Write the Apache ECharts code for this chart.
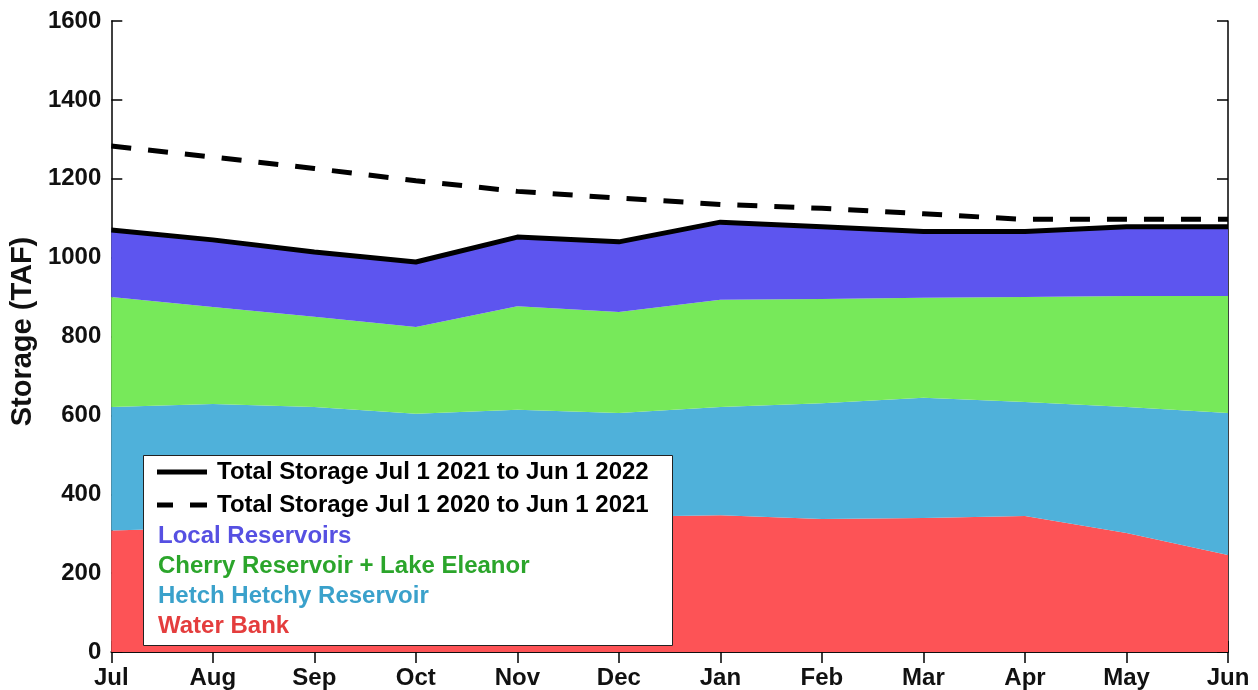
<!DOCTYPE html>
<html>
<head>
<meta charset="utf-8">
<script src="https://cdn.jsdelivr.net/npm/echarts@6/dist/echarts.min.js"></script>
<style>
  html, body { margin: 0; padding: 0; background: #fff; }
  #chart { width: 1258px; height: 690px; }
</style>
</head>
<body>
<div id="chart"></div>
<script>
// Monthly storage, thousand acre-feet (TAF)
const months = ['Jul', 'Aug', 'Sep', 'Oct', 'Nov', 'Dec', 'Jan', 'Feb', 'Mar', 'Apr', 'May', 'Jun'];
const waterBank     = [308, 315, 322, 328, 335, 343, 347, 337, 340, 345, 302, 246];
const hetchHetchy   = [313, 314, 299, 276, 279, 263, 274, 294, 305, 289, 319, 360];
const cherryEleanor = [279, 246, 229, 220, 263, 256, 272, 264, 253, 266, 282, 297];
const localRes      = [170, 170, 164, 165, 175, 178, 197, 183, 168, 166, 175, 175];
const total2022     = [1070, 1045, 1014, 989, 1052, 1040, 1090, 1078, 1066, 1066, 1078, 1078];
const total2021     = [1283, 1255, 1226, 1195, 1168, 1151, 1135, 1125, 1111, 1097, 1097, 1097];
const yTicks = { min: 0, max: 1600, step: 200 };

const NAME_TOTAL_22 = 'Total Storage Jul 1 2021 to Jun 1 2022';
const NAME_TOTAL_21 = 'Total Storage Jul 1 2020 to Jun 1 2021';
const NAME_LOCAL = 'Local Reservoirs';
const NAME_CHERRY = 'Cherry Reservoir + Lake Eleanor';
const NAME_HETCH = 'Hetch Hetchy Reservoir';
const NAME_BANK = 'Water Bank';

const FONT = "'Liberation Sans', Arial, Helvetica, sans-serif";
const fill = { bank: '#fd5356', hetch: '#4fb1da', cherry: '#77e95a', local: '#5d55ef' };

// legend swatches: a solid bar and a two-dash bar
const ICON_SOLID = 'path://M0,0H50V5H0Z';
const ICON_DASHED = 'path://M0,0H16V5H0Z M33,0H50V5H33Z';

function stackArea(name, data, color) {
  return {
    name, type: 'line', stack: 'storage', data,
    symbol: 'none', smooth: false,
    lineStyle: { width: 0 },
    itemStyle: { color },
    areaStyle: { color, opacity: 1 },
    z: 2
  };
}

const chart = echarts.init(document.getElementById('chart'), null, { renderer: 'canvas' });

const axisLine = { show: true, lineStyle: { color: '#000', width: 1.5 } };
const tickIn = { show: true, inside: true, length: 11, lineStyle: { color: '#000', width: 1.5 } };

chart.setOption({
  animation: false,
  backgroundColor: '#fff',
  grid: { left: 110, right: 30, top: 21, bottom: 38, containLabel: false },
  xAxis: [
    {
      type: 'category', data: months, boundaryGap: false, position: 'bottom',
      axisLine, axisTick: tickIn,
      axisLabel: { color: '#111', fontFamily: FONT, fontWeight: 'bold', fontSize: 24, margin: 14 },
      splitLine: { show: false }
    },
    {
      type: 'category', data: months, boundaryGap: false, position: 'top',
      axisLine, axisTick: tickIn, axisLabel: { show: false }, splitLine: { show: false }
    }
  ],
  yAxis: [
    {
      type: 'value', min: yTicks.min, max: yTicks.max, interval: yTicks.step, position: 'left',
      name: 'Storage (TAF)', nameLocation: 'middle', nameGap: 55,
      nameTextStyle: { color: '#111', fontFamily: FONT, fontWeight: 'bold', fontSize: 29, padding: [0, 0, 0, 10] },
      axisLine, axisTick: tickIn,
      axisLabel: {
        color: '#111', fontFamily: FONT, fontWeight: 'bold', fontSize: 24, margin: 10,
        formatter: v => String(v)
      },
      splitLine: { show: false }
    },
    {
      type: 'value', min: yTicks.min, max: yTicks.max, interval: yTicks.step, position: 'right',
      axisLine, axisTick: tickIn, axisLabel: { show: false }, splitLine: { show: false }
    }
  ],
  graphic: [{
    type: 'rect', z: 50,
    shape: { x: 143.5, y: 455.5, width: 529, height: 190 },
    style: { fill: '#fff', stroke: '#222', lineWidth: 1 }
  }],
  legend: [
    {
      z: 60, left: 157, top: 460, padding: 0, orient: 'vertical', selectedMode: false,
      itemWidth: 50, itemHeight: 5, itemGap: 9,
      itemStyle: { color: '#000' },
      textStyle: { color: '#000', fontFamily: FONT, fontWeight: 'bold', fontSize: 24, padding: [0, 0, 0, 5] },
      data: [
        { name: NAME_TOTAL_22, icon: ICON_SOLID },
        { name: NAME_TOTAL_21, icon: ICON_DASHED }
      ]
    },
    {
      z: 60, left: 153, top: 524, padding: 0, orient: 'vertical', selectedMode: false,
      itemWidth: 0, itemHeight: 5, itemGap: 6,
      itemStyle: { color: 'transparent', borderWidth: 0 },
      textStyle: { fontFamily: FONT, fontWeight: 'bold', fontSize: 24 },
      data: [
        { name: NAME_LOCAL, icon: 'rect', textStyle: { color: '#5650e2' } },
        { name: NAME_CHERRY, icon: 'rect', textStyle: { color: '#2ba52b' } },
        { name: NAME_HETCH, icon: 'rect', textStyle: { color: '#3aa1cb' } },
        { name: NAME_BANK, icon: 'rect', textStyle: { color: '#e43d3d' } }
      ]
    }
  ],
  series: [
    stackArea(NAME_BANK, waterBank, fill.bank),
    stackArea(NAME_HETCH, hetchHetchy, fill.hetch),
    stackArea(NAME_CHERRY, cherryEleanor, fill.cherry),
    stackArea(NAME_LOCAL, localRes, fill.local),
    {
      name: NAME_TOTAL_22, type: 'line', data: total2022, symbol: 'none', z: 5,
      itemStyle: { color: '#000' },
      lineStyle: { color: '#000', width: 5, cap: 'butt', join: 'round' }
    },
    {
      name: NAME_TOTAL_21, type: 'line', data: total2021, symbol: 'none', z: 5,
      itemStyle: { color: '#000' },
      lineStyle: { color: '#000', width: 5, type: [20, 17], cap: 'butt' }
    }
  ]
});
</script>
</body>
</html>
